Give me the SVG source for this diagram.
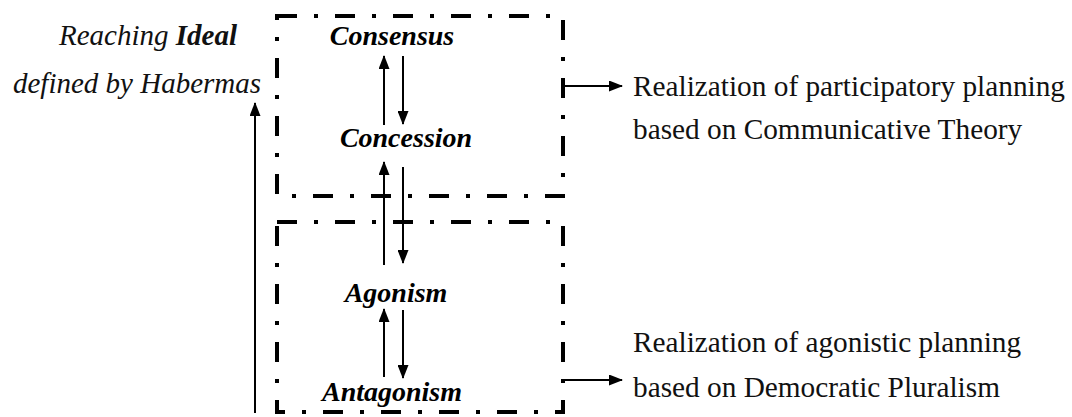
<svg xmlns="http://www.w3.org/2000/svg" width="1072" height="417" viewBox="0 0 1072 417">
  <style>
    .frame { fill: none; stroke: #000; stroke-width: 4; stroke-dasharray: 20 17 4 17; }
    .link { fill: none; stroke: #000; stroke-width: 2; marker-end: url(#head); }
    .node { font-family: "Liberation Serif", "Times New Roman", serif; font-size: 28px; font-style: italic; font-weight: bold; fill: #000; text-anchor: middle; }
    .note { font-family: "Liberation Serif", "Times New Roman", serif; font-size: 29.3px; fill: #111; }
    .side { font-family: "Liberation Serif", "Times New Roman", serif; font-size: 29px; font-style: italic; fill: #111; text-anchor: middle; }
  </style>
  <defs>
    <marker id="head" viewBox="0 0 14 11" refX="13" refY="5.5" markerWidth="14" markerHeight="11" markerUnits="userSpaceOnUse" orient="auto">
      <path d="M0,0 L14,5.5 L0,11 z" fill="#000"/>
    </marker>
  </defs>

  <rect width="1072" height="417" fill="#fff"/>

  <!-- dash-dot frames around the two stages -->
  <g id="frame-communicative">
    <rect class="frame" x="277" y="16" width="286" height="180"/>
  </g>
  <g id="frame-agonistic">
    <rect class="frame" x="277" y="222" width="286" height="190"/>
  </g>

  <!-- stage labels -->
  <g id="consensus"><text class="node" x="392" y="45">Consensus</text></g>
  <g id="concession"><text class="node" x="406" y="147">Concession</text></g>
  <g id="agonism"><text class="node" x="396" y="302">Agonism</text></g>
  <g id="antagonism"><text class="node" x="392" y="401">Antagonism</text></g>

  <g id="ideal">
    <text class="side" x="148" y="45">Reaching <tspan font-weight="bold">Ideal</tspan></text>
    <text class="side" x="137" y="93">defined by Habermas</text>
  </g>

  <g id="participatory">
    <text class="note" x="633" y="96">Realization of participatory planning</text>
    <text class="note" x="633" y="139">based on Communicative Theory</text>
  </g>

  <g id="agonistic">
    <text class="note" x="633" y="352">Realization of agonistic planning</text>
    <text class="note" x="633" y="397">based on Democratic Pluralism</text>
  </g>

  <!-- connectors -->
  <g id="connectors">
    <line class="link" x1="255" y1="413" x2="255" y2="103"/>
    <line class="link" x1="384" y1="125" x2="384" y2="56"/>
    <line class="link" x1="403" y1="56" x2="403" y2="124"/>
    <line class="link" x1="384" y1="265" x2="384" y2="162"/>
    <line class="link" x1="403" y1="167" x2="403" y2="263"/>
    <line class="link" x1="384" y1="377" x2="384" y2="309"/>
    <line class="link" x1="403" y1="310" x2="403" y2="378"/>
    <line class="link" x1="563" y1="86" x2="622" y2="86"/>
    <line class="link" x1="563" y1="380" x2="622" y2="380"/>
  </g>
</svg>
